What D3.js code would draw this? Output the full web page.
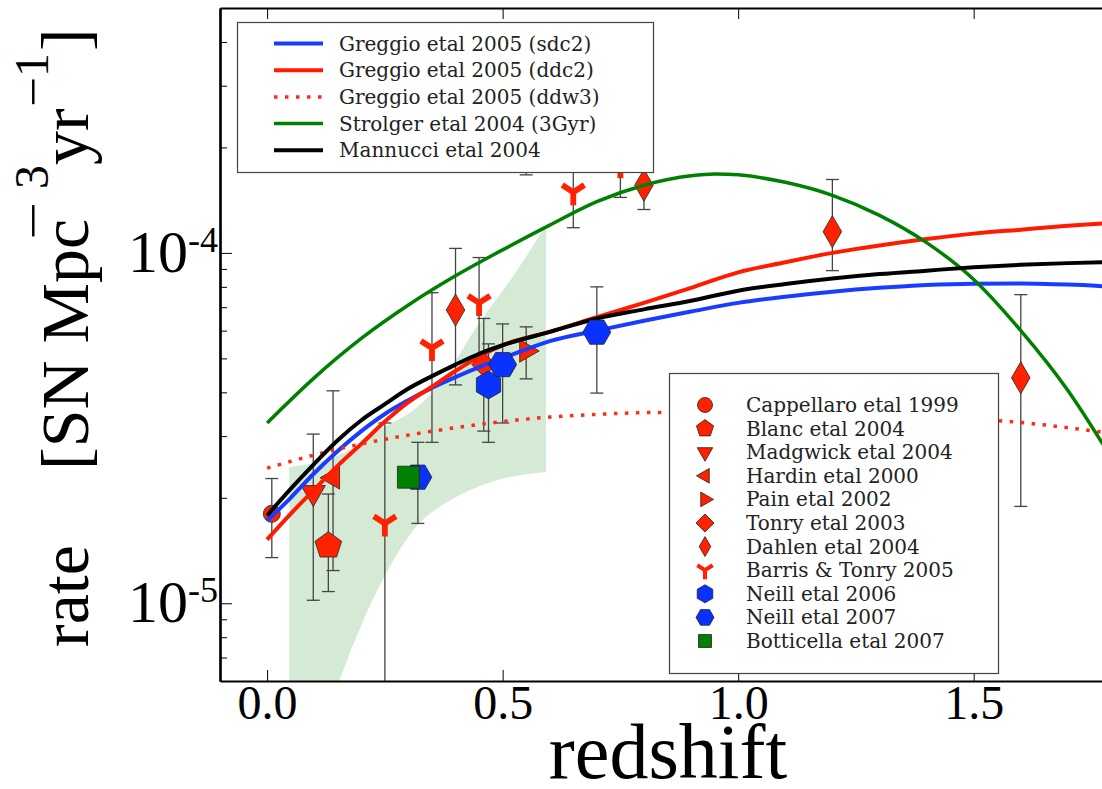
<!DOCTYPE html>
<html>
<head>
<meta charset="utf-8">
<script src="https://cdn.jsdelivr.net/npm/d3@7"></script>
<style>
body { margin: 0; background: #fff; }
svg { display: block; }
</style>
</head>
<body>
<div id="chart"></div>
<script>
// all rates are in units of 1e-5 SN Mpc^-3 yr^-1
var UNIT = 1e-5;

// model curves: [redshift, rate]
var greggioSdc2 = [[0,1.72],[0.05,2.0],[0.1,2.35],[0.15,2.72],[0.2,3.1],[0.25,3.47],[0.3,3.8],[0.35,4.12],
  [0.4,4.42],[0.45,4.72],[0.5,5.0],[0.6,5.6],[0.7,6.0],[0.8,6.4],[0.9,6.8],[1.0,7.2],[1.1,7.5],[1.2,7.75],
  [1.3,7.95],[1.4,8.1],[1.5,8.17],[1.6,8.18],[1.7,8.12],[1.8,8.0]];
var greggioDdc2 = [[0,1.52],[0.05,1.8],[0.1,2.11],[0.15,2.47],[0.2,2.85],[0.25,3.3],[0.3,3.75],[0.35,4.15],
  [0.4,4.6],[0.45,5.05],[0.5,5.45],[0.6,5.95],[0.7,6.55],[0.8,7.2],[0.9,7.95],[1.0,8.8],[1.1,9.4],[1.2,10.0],
  [1.3,10.5],[1.4,10.95],[1.5,11.35],[1.6,11.65],[1.7,11.95],[1.8,12.2]];
var greggioDdw3 = [[0,2.43],[0.1,2.65],[0.2,2.85],[0.3,3.02],[0.4,3.17],[0.5,3.3],[0.6,3.4],[0.7,3.46],
  [0.8,3.5],[0.9,3.51],[1.0,3.5],[1.1,3.48],[1.2,3.45],[1.3,3.42],[1.4,3.39],[1.5,3.35],[1.6,3.28],[1.7,3.17],[1.8,3.04]];
var strolger3Gyr = [[0,3.27],[0.1,4.4],[0.2,5.7],[0.3,7.1],[0.4,8.6],[0.5,10.2],[0.6,12.0],[0.7,14.0],
  [0.8,15.6],[0.9,16.6],[0.95,16.8],[1.0,16.7],[1.1,15.9],[1.2,14.6],[1.3,12.8],[1.4,10.7],[1.5,8.4],
  [1.6,6.0],[1.7,4.05],[1.8,2.5]];
var mannucci = [[0,1.78],[0.05,2.12],[0.1,2.5],[0.15,2.92],[0.2,3.33],[0.25,3.7],[0.3,4.1],[0.35,4.45],
  [0.4,4.8],[0.45,5.15],[0.5,5.45],[0.6,5.95],[0.7,6.5],[0.8,6.9],[0.9,7.3],[1.0,7.8],[1.1,8.15],[1.2,8.45],
  [1.3,8.7],[1.4,8.9],[1.5,9.1],[1.6,9.25],[1.7,9.35],[1.8,9.42]];

// Botticella shaded region: upper and lower edges
var bandUpper = [[0.047,2.45],[0.153,2.65],[0.244,3.16],[0.316,3.6],[0.37,4.3],[0.45,6.3],[0.52,8.5],[0.592,12.0]];
var bandLower = [[0.047,0.3],[0.12,0.45],[0.153,0.6],[0.21,0.93],[0.253,1.22],[0.316,1.65],[0.39,1.97],[0.49,2.25],[0.592,2.37]];

// observations: [redshift, rate, low, high]
var cappellaro = [[0.01,1.8,1.35,2.27]];
var blanc = [[0.13,1.46,1.08,2.05]];
var madgwick = [[0.098,2.07,1.02,3.04]];
var hardin = [[0.14,2.28,1.24,4.04]];
var pain = [[0.55,5.25,4.37,6.15]];
var tonry = [[0.46,4.8,3.1,6.5]];
var dahlen = [[0.4,6.87,4.2,10.3],[0.8,15.6,13.3,20.1],[1.2,11.5,8.9,16.2],[1.6,4.4,1.89,7.6]];
var barris = [[0.25,1.69,0.01,3.27],[0.35,5.35,2.88,7.7],[0.45,7.2,4.9,9.7],[0.55,20.4,16.7,24.2],
  [0.65,14.9,11.8,18.0],[0.75,17.8,14.4,21.2]];
var neill2006 = [[0.47,4.2,2.88,5.5]];
var neill2007 = [[0.32,2.29,1.69,2.88],[0.5,4.8,3.27,6.27],[0.7,5.94,3.98,8.0]];
var botticella = [[0.3,2.29,2.29,2.29]];

var xTicks = [0, 0.5, 1.0, 1.5];
var yMajor = [1e-5, 1e-4];
var yMinor = [7e-6, 8e-6, 9e-6, 2e-5, 3e-5, 4e-5, 5e-5, 6e-5, 7e-5, 8e-5, 9e-5, 2e-4, 3e-4, 4e-4];
var yLabels = ["-5", "-4"];

var w = 1102, h = 789;
var padL = 220, padT = 8, padR = 1115, padB = 681;

var RED = "#ff2200", BLUE = "#0a32ff", GREEN = "#008000";

var x = d3.scaleLinear().domain([-0.1, 1.8]).range([padL, padR]);
var y = d3.scaleLog().domain([6e-6, 5e-4]).range([padB, padT]);

var svg = d3.select("#chart").append("svg")
  .attr("width", w).attr("height", h)
  .style("font-family", "'DejaVu Serif', serif");

svg.append("clipPath").attr("id", "plotclip")
  .append("rect").attr("x", padL).attr("y", padT)
  .attr("width", padR - padL).attr("height", padB - padT);

var plot = svg.append("g").attr("clip-path", "url(#plotclip)");

// marker shapes
function poly(n, r, rot) {
  var pts = [];
  for (var i = 0; i < n; i++) {
    var a = rot + i * 2 * Math.PI / n;
    pts.push((r * Math.sin(a)).toFixed(2) + "," + (-r * Math.cos(a)).toFixed(2));
  }
  return "M" + pts.join("L") + "Z";
}
function markerPath(shape, r) {
  if (shape == "o") return "M" + r + ",0A" + r + "," + r + " 0 1 1 " + (-r) + ",0A" + r + "," + r + " 0 1 1 " + r + ",0Z";
  if (shape == "p") return poly(5, r, 0);
  if (shape == "v") return poly(3, r, Math.PI);
  if (shape == "<") return poly(3, r, -Math.PI / 2);
  if (shape == ">") return poly(3, r, Math.PI / 2);
  if (shape == "D") return poly(4, r, 0);
  if (shape == "d") return "M0," + (-r) + "L" + (0.58 * r) + ",0L0," + r + "L" + (-0.58 * r) + ",0Z";
  if (shape == "h") return poly(6, r, 0);
  if (shape == "H") return poly(6, r, Math.PI / 6);
  if (shape == "s") return "M" + (-r) + "," + (-r) + "H" + r + "V" + r + "H" + (-r) + "Z";
  if (shape == "1") return "M" + (-0.85 * r) + "," + (-0.55 * r) + "L0,0L" + (0.85 * r) + "," + (-0.55 * r) + "M0,0V" + r;
}

function drawMarker(g, shape, r, color, px, py) {
  var p = g.append("path").attr("d", markerPath(shape, r))
    .attr("transform", "translate(" + px + "," + py + ")");
  if (shape == "1") {
    p.attr("fill", "none").attr("stroke", color).attr("stroke-width", r * 0.45);
  } else {
    p.attr("fill", color).attr("stroke", "#222").attr("stroke-width", 0.8);
  }
}

// series definitions for markers and legend
var observations = [
  { name: "Cappellaro etal 1999", data: cappellaro, shape: "o", r: 8.5, lr: 7.5, color: RED, layer: "under" },
  { name: "Blanc etal 2004", data: blanc, shape: "p", r: 14, lr: 9, color: RED, layer: "under" },
  { name: "Madgwick etal 2004", data: madgwick, shape: "v", r: 14, lr: 9, color: RED, layer: "under" },
  { name: "Hardin etal 2000", data: hardin, shape: "<", r: 13, lr: 8.5, color: RED, layer: "under" },
  { name: "Pain etal 2002", data: pain, shape: ">", r: 13, lr: 8.5, color: RED, layer: "under" },
  { name: "Tonry etal 2003", data: tonry, shape: "D", r: 12, lr: 9, color: RED, layer: "under" },
  { name: "Dahlen etal 2004", data: dahlen, shape: "d", r: 16, lr: 10, color: RED, layer: "under" },
  { name: "Barris & Tonry 2005", data: barris, shape: "1", r: 13, lr: 9, color: RED, layer: "under" },
  { name: "Neill etal 2006", data: neill2006, shape: "h", r: 14, lr: 9, color: BLUE, layer: "over" },
  { name: "Neill etal 2007", data: neill2007, shape: "H", r: 14, lr: 9, color: BLUE, layer: "over" },
  { name: "Botticella etal 2007", data: botticella, shape: "s", r: 11, lr: 6.5, color: GREEN, layer: "over" }
];

var models = [
  { name: "Greggio etal 2005 (sdc2)", data: greggioSdc2, color: "#1a3cff", width: 4, dash: null },
  { name: "Greggio etal 2005 (ddc2)", data: greggioDdc2, color: "#ff1a00", width: 4, dash: null },
  { name: "Greggio etal 2005 (ddw3)", data: greggioDdw3, color: "#ff2a1a", width: 3.5, dash: "3.5,7.5" },
  { name: "Strolger etal 2004 (3Gyr)", data: strolger3Gyr, color: GREEN, width: 3.5, dash: null },
  { name: "Mannucci etal 2004", data: mannucci, color: "#000", width: 4, dash: null }
];

// shaded band
var bandPath = d3.line().curve(d3.curveMonotoneX)
  .x(function(d) { return x(d[0]); })
  .y(function(d) { return y(d[1] * UNIT); });
var upperD = bandPath(bandUpper);
var lowerD = bandPath(bandLower.slice().reverse()).replace("M", "L");
plot.append("path")
  .attr("d", upperD + lowerD + "Z")
  .attr("fill", GREEN).attr("fill-opacity", 0.17);

// error bars
var errG = plot.append("g").attr("stroke", "#444").attr("stroke-width", 1.3);
observations.forEach(function(s) {
  s.data.forEach(function(d) {
    if (d[2] == d[3]) return;
    var px = x(d[0]);
    errG.append("line").attr("x1", px).attr("x2", px)
      .attr("y1", y(d[2] * UNIT)).attr("y2", y(d[3] * UNIT));
    [d[2], d[3]].forEach(function(v) {
      errG.append("line").attr("x1", px - 6.5).attr("x2", px + 6.5)
        .attr("y1", y(v * UNIT)).attr("y2", y(v * UNIT));
    });
  });
});

var underG = plot.append("g");
var curveG = plot.append("g");
var overG = plot.append("g");

observations.forEach(function(s) {
  var g = s.layer == "under" ? underG : overG;
  s.data.forEach(function(d) {
    drawMarker(g, s.shape, s.r, s.color, x(d[0]), y(d[1] * UNIT));
  });
});

var line = d3.line().curve(d3.curveMonotoneX)
  .x(function(d) { return x(d[0]); })
  .y(function(d) { return y(d[1] * UNIT); });
models.forEach(function(m) {
  curveG.append("path").attr("d", line(m.data))
    .attr("fill", "none").attr("stroke", m.color)
    .attr("stroke-width", m.width)
    .attr("stroke-dasharray", m.dash);
});

// axes
var xAxis = svg.append("g").attr("transform", "translate(0," + padB + ")")
  .call(d3.axisBottom(x).tickValues(xTicks).tickSize(-11).tickSizeOuter(0)
    .tickPadding(4).tickFormat(d3.format(".1f")));
xAxis.selectAll("text").attr("font-family", "'Liberation Serif', serif")
  .attr("font-size", 48).attr("fill", "#000");
var xTop = svg.append("g").attr("transform", "translate(0," + padT + ")")
  .call(d3.axisTop(x).tickValues(xTicks).tickSize(-11).tickSizeOuter(0).tickFormat(""));
var yAxis = svg.append("g").attr("transform", "translate(" + padL + ",0)")
  .call(d3.axisLeft(y).tickValues(yMajor).tickSize(-12).tickSizeOuter(0).tickFormat(""));
var yMin = svg.append("g").attr("transform", "translate(" + padL + ",0)")
  .call(d3.axisLeft(y).tickValues(yMinor).tickSize(-7).tickSizeOuter(0).tickFormat(""));
[xAxis, xTop, yAxis, yMin].forEach(function(a) {
  a.select(".domain").attr("stroke", "#000").attr("stroke-width", 2.2);
  a.selectAll(".tick line").attr("stroke", "#000").attr("stroke-width", 1);
});

yMajor.forEach(function(v, i) {
  var t = svg.append("text").attr("x", padL - 2).attr("y", y(v) + 19)
    .attr("text-anchor", "end").attr("font-family", "'Liberation Serif', serif")
    .attr("font-size", 60);
  t.append("tspan").text("10");
  t.append("tspan").attr("dy", -20).attr("font-size", 36).text(yLabels[i]);
});

// axis titles
svg.append("text").attr("x", 668).attr("y", 778).attr("text-anchor", "middle")
  .attr("font-family", "'Liberation Serif', serif").attr("font-size", 78)
  .text("redshift");

var yTitle = svg.append("g").attr("transform", "translate(88,647) rotate(-90)")
  .attr("font-family", "'Liberation Serif', serif");
var titleParts = [
  { t: "rate", x: 0, dy: 0, fs: 68 },
  { t: "[SN Mpc", x: 177, dy: 0, fs: 68 },
  { t: "\u2212", x: 407, dy: -38, fs: 50, len: 38 },
  { t: "3", x: 458, dy: -40, fs: 48 },
  { t: "yr", x: 482, dy: 0, fs: 68 },
  { t: "\u2212", x: 540, dy: -38, fs: 50, len: 30 },
  { t: "1", x: 570, dy: -40, fs: 48 },
  { t: "]", x: 596, dy: 0, fs: 68 }
];
titleParts.forEach(function(p) {
  var t = yTitle.append("text").attr("x", p.x).attr("y", p.dy)
    .attr("font-size", p.fs).text(p.t);
  if (p.len) t.attr("textLength", p.len).attr("lengthAdjust", "spacingAndGlyphs");
});

// legend for models
var leg1 = svg.append("g");
leg1.append("rect").attr("x", 237.5).attr("y", 22.5).attr("width", 416).attr("height", 150)
  .attr("fill", "#fff").attr("stroke", "#444").attr("stroke-width", 1.2);
models.forEach(function(m, i) {
  var ly = 43.5 + i * 26.7;
  leg1.append("line").attr("x1", 274).attr("x2", 323).attr("y1", ly).attr("y2", ly)
    .attr("stroke", m.color).attr("stroke-width", m.width)
    .attr("stroke-dasharray", m.dash);
  leg1.append("text").attr("x", 339).attr("y", ly).attr("dy", "0.35em")
    .attr("font-size", 20).attr("fill", "#222").text(m.name);
});

// legend for observations
var leg2 = svg.append("g");
leg2.append("rect").attr("x", 669.5).attr("y", 373.5).attr("width", 329).attr("height", 300)
  .attr("fill", "#fff").attr("stroke", "#444").attr("stroke-width", 1.2);
observations.forEach(function(s, i) {
  var ly = 405 + i * 23.6;
  drawMarker(leg2, s.shape, s.lr, s.color, 705, ly);
  leg2.append("text").attr("x", 746).attr("y", ly).attr("dy", "0.35em")
    .attr("font-size", 20).attr("fill", "#222").text(s.name);
});
</script>
</body>
</html>
